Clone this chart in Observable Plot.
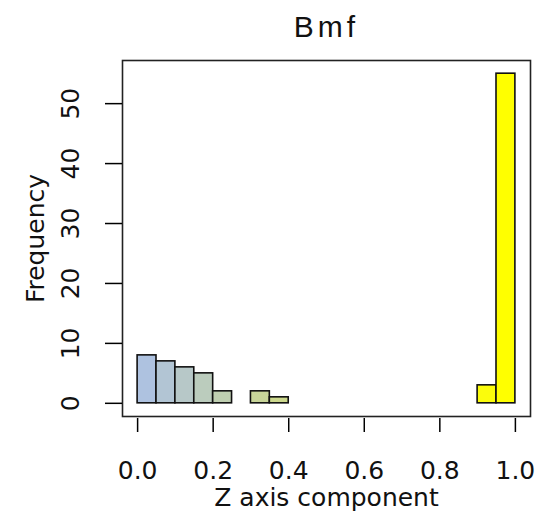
<!DOCTYPE html>
<html>
<head>
<meta charset="utf-8">
<script src="https://cdn.jsdelivr.net/npm/d3@7"></script>
<script src="https://cdn.jsdelivr.net/npm/@observablehq/plot@0.6"></script>
<style>
  html, body { margin: 0; padding: 0; background: #fff; }
</style>
</head>
<body>
<div id="chart"></div>
<script>
const binStart = [0.00,0.05,0.10,0.15,0.20,0.25,0.30,0.35,0.40,0.45,0.50,0.55,0.60,0.65,0.70,0.75,0.80,0.85,0.90,0.95];
const counts   = [8,   7,   6,   5,   2,   0,   2,   1,   0,   0,   0,   0,   0,   0,   0,   0,   0,   0,   3,   55];
const binWidth = 0.05;
const xTicks = [0, 0.2, 0.4, 0.6, 0.8, 1.0];
const yTicks = [0, 10, 20, 30, 40, 50];
const title = "Bmf";
const xLabel = "Z axis component";
const yLabel = "Frequency";

const ramp = d3.interpolateRgb("#aec2e0", "#ffff00");
const bins = binStart.map((s, i) => ({x1: s, x2: s + binWidth, count: counts[i], color: ramp(i / (binStart.length - 1))}));

const font = "DejaVu Sans, sans-serif";

const chart = Plot.plot({
  width: 540,
  height: 523,
  marginLeft: 122,
  marginRight: 10,
  marginTop: 60,
  marginBottom: 107,
  style: {fontFamily: font, background: "#fff", color: "#000"},
  x: {domain: [-0.04, 1.04], axis: null},
  y: {domain: [-2.2, 57.2], axis: null},
  marks: [
    Plot.rectY(bins, {x1: "x1", x2: "x2", y1: 0, y2: "count", fill: "color", stroke: "#111", strokeWidth: 1.6}),
    Plot.frame({stroke: "#222", strokeWidth: 1.6}),
    Plot.axisX({ticks: xTicks, tickSize: 14, dy: 2, tickFormat: () => "", label: null, strokeWidth: 1.5}),
    Plot.axisY({ticks: yTicks, tickSize: 17, tickFormat: () => "", label: null, strokeWidth: 1.5}),
    Plot.text(xTicks, {x: d => d, text: d => d3.format(".1f")(d), frameAnchor: "bottom", dy: 54, lineAnchor: "middle", fontSize: 25, fill: "#111"}),
    Plot.text(yTicks, {y: d => d, text: d => String(d), frameAnchor: "left", dx: -52, rotate: -90, textAnchor: "middle", lineAnchor: "middle", fontSize: 25, fill: "#111"}),
    Plot.text([xLabel], {text: d => d, frameAnchor: "bottom", dy: 81, lineAnchor: "middle", fontSize: 25, fill: "#111"}),
    Plot.text([yLabel], {text: d => d, frameAnchor: "left", dx: -87, rotate: -90, textAnchor: "middle", lineAnchor: "middle", fontSize: 25, fill: "#111"}),
    Plot.text([title], {text: d => d, frameAnchor: "top", dy: -33, lineAnchor: "middle", fontSize: 30, fontFamily: "Liberation Sans, Arial, sans-serif", fill: "#111"})
  ]
});
d3.select(chart).selectAll("text").filter(function() { return this.textContent === title; }).attr("letter-spacing", "4px");
document.getElementById("chart").appendChild(chart);
</script>
</body>
</html>
